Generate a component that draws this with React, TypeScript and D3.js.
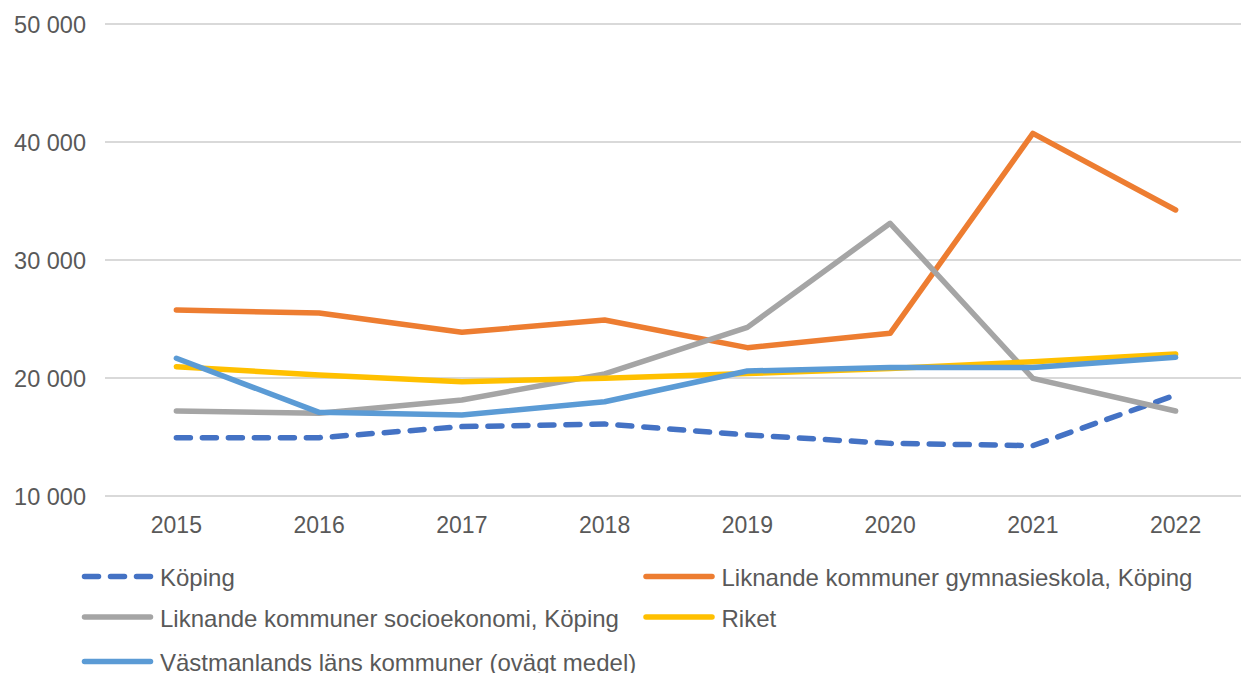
import { useEffect, useRef } from "react"
import * as d3 from "d3"

// Years on the x axis
const years = ["2015", "2016", "2017", "2018", "2019", "2020", "2021", "2022"]

// Series values
const koping = [14940, 14940, 15880, 16100, 15170, 14460, 14270, 18560]
const liknandeGymnasie = [25760, 25500, 23870, 24920, 22570, 23790, 40730, 34240]
const liknandeSocio = [17200, 17020, 18140, 20340, 24290, 33110, 19970, 17200]
const riket = [20960, 20250, 19690, 19970, 20380, 20800, 21380, 22030]
const vastmanland = [21670, 17090, 16860, 17990, 20590, 20900, 20880, 21750]

const yTicks = [10000, 20000, 30000, 40000, 50000]

const seriesNames = [
  "Köping",
  "Liknande kommuner gymnasieskola, Köping",
  "Liknande kommuner socioekonomi, Köping",
  "Riket",
  "Västmanlands läns kommuner (ovägt medel)",
]
const seriesColors = ["#4472C4", "#ED7D31", "#A5A5A5", "#FFC000", "#5B9BD5"]
const seriesValues = [koping, liknandeGymnasie, liknandeSocio, riket, vastmanland]

const W = 1241
const H = 673
const FONT = "Arial, 'Liberation Sans', sans-serif"

export default function App() {
  const svgRef = useRef<SVGSVGElement>(null)

  useEffect(() => {
    if (!svgRef.current) return
    const svg = d3.select(svgRef.current)
    svg.selectAll("*").remove()

    const x = d3.scaleBand().domain(years).range([105, 1247])
    const cx = (d: string) => (x(d) || 0) + x.bandwidth() / 2
    const y = d3.scaleLinear().domain([10000, 50000]).range([496, 24])

    // gridlines
    svg
      .append("g")
      .selectAll("line")
      .data(yTicks)
      .enter()
      .append("line")
      .attr("x1", 105)
      .attr("x2", 1247)
      .attr("y1", (d) => y(d))
      .attr("y2", (d) => y(d))
      .attr("stroke", "#d9d9d9")
      .attr("stroke-width", 2)

    // y tick labels, space as thousands separator
    const fmt = (v: number) => d3.format(",")(v).replace(",", " ")
    svg
      .append("g")
      .selectAll("text")
      .data(yTicks)
      .enter()
      .append("text")
      .attr("x", 86)
      .attr("y", (d) => y(d) + 8.5)
      .attr("text-anchor", "end")
      .attr("font-family", FONT)
      .attr("font-size", 23.5)
      .attr("fill", "#595959")
      .text((d) => fmt(d))

    // x labels
    svg
      .append("g")
      .selectAll("text")
      .data(years)
      .enter()
      .append("text")
      .attr("x", (d) => cx(d))
      .attr("y", 533)
      .attr("text-anchor", "middle")
      .attr("font-family", FONT)
      .attr("font-size", 23)
      .attr("fill", "#595959")
      .text((d) => d)

    // lines
    const line = d3
      .line<number>()
      .x((_, i) => cx(years[i]))
      .y((d) => y(d))

    seriesValues.forEach((vals, i) => {
      svg
        .append("path")
        .datum(vals)
        .attr("d", line)
        .attr("fill", "none")
        .attr("stroke", seriesColors[i])
        .attr("stroke-width", 5.5)
        .attr("stroke-linejoin", "round")
        .attr("stroke-linecap", "round")
        .attr("stroke-dasharray", i === 0 ? "14,12" : null)
    })

    // legend
    const legendPos = [
      { lx: 84.5, ly: 576.5 },
      { lx: 646, ly: 576.5 },
      { lx: 84.5, ly: 617 },
      { lx: 646, ly: 617 },
      { lx: 84.5, ly: 661.5 },
    ]
    const lg = svg.append("g")
    seriesNames.forEach((name, i) => {
      const { lx, ly } = legendPos[i]
      lg.append("line")
        .attr("x1", lx)
        .attr("x2", lx + 66)
        .attr("y1", ly)
        .attr("y2", ly)
        .attr("stroke", seriesColors[i])
        .attr("stroke-width", 5.5)
        .attr("stroke-linecap", "round")
        .attr("stroke-dasharray", i === 0 ? "14,12" : null)
      lg.append("text")
        .attr("x", lx + 75.5)
        .attr("y", ly + 9.8)
        .attr("font-family", FONT)
        .attr("font-size", 24)
        .attr("fill", "#595959")
        .text(name)
    })
  }, [])

  return (
    <svg
      ref={svgRef}
      width={W}
      height={H}
      style={{ position: "absolute", left: 0, top: 0, background: "#fff" }}
    />
  )
}
